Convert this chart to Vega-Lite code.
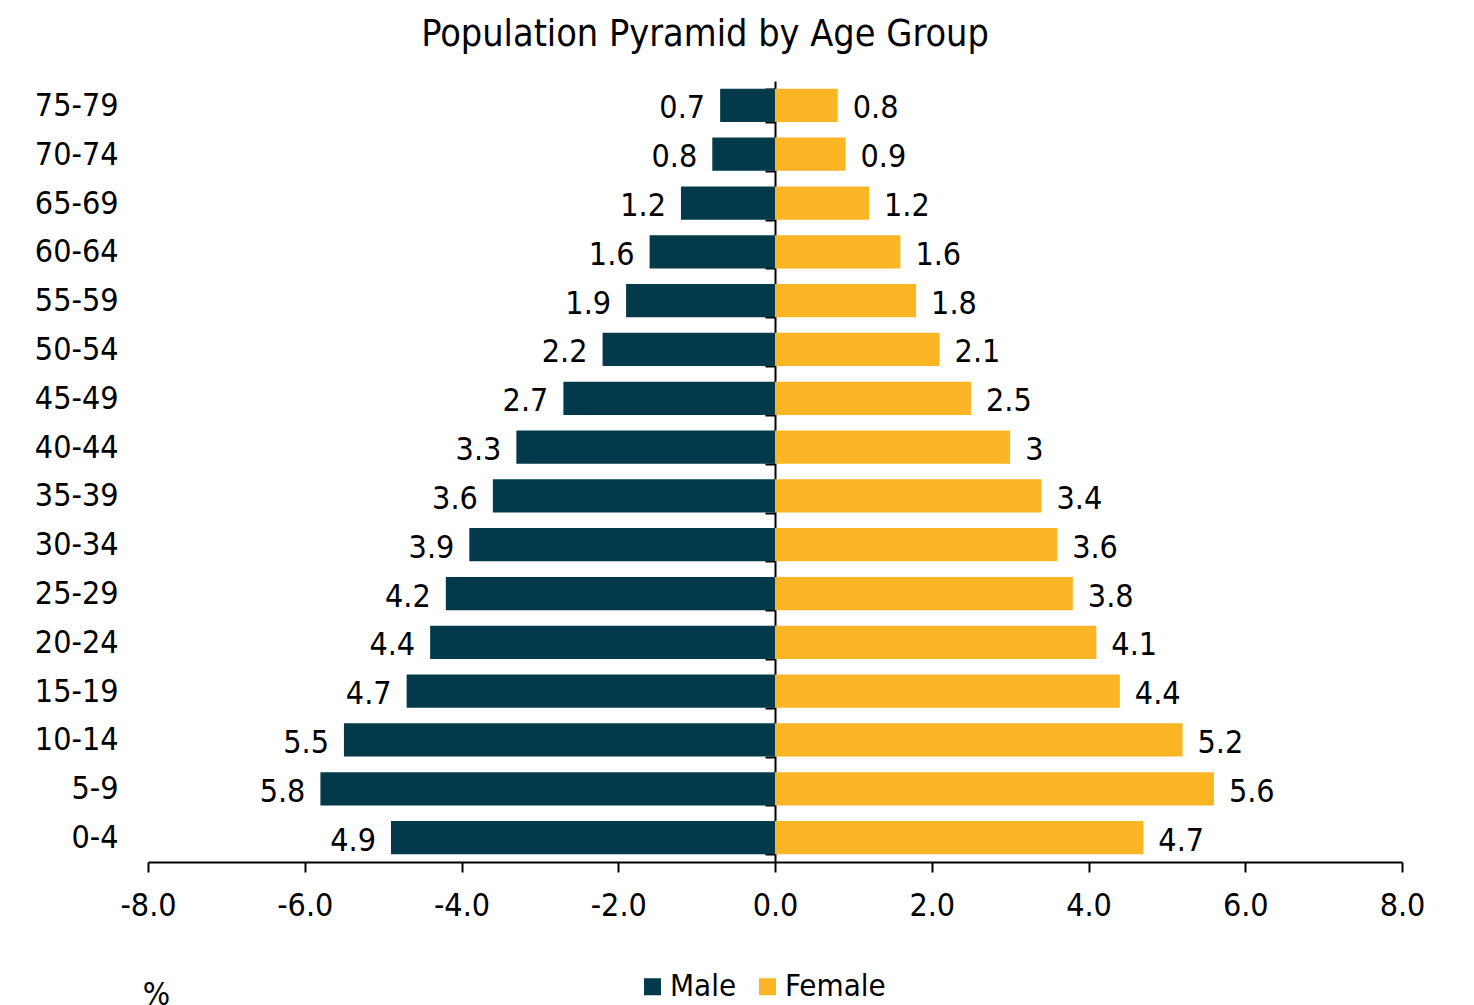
{
  "$schema": "https://vega.github.io/schema/vega-lite/v6.json",
  "width": 1254,
  "height": 781,
  "autosize": {"type": "none"},
  "padding": {"left": 148, "top": 81, "right": 72, "bottom": 143},
  "title": {
    "text": "Population Pyramid by Age Group",
    "fontSize": 37.5,
    "fontWeight": "normal",
    "color": "#000000",
    "anchor": "middle",
    "dx": -70,
    "offset": 12
  },
  "data": {
    "values": [
      {"age": "75-79", "sex": "Male", "pct": 0.7},
      {"age": "70-74", "sex": "Male", "pct": 0.8},
      {"age": "65-69", "sex": "Male", "pct": 1.2},
      {"age": "60-64", "sex": "Male", "pct": 1.6},
      {"age": "55-59", "sex": "Male", "pct": 1.9},
      {"age": "50-54", "sex": "Male", "pct": 2.2},
      {"age": "45-49", "sex": "Male", "pct": 2.7},
      {"age": "40-44", "sex": "Male", "pct": 3.3},
      {"age": "35-39", "sex": "Male", "pct": 3.6},
      {"age": "30-34", "sex": "Male", "pct": 3.9},
      {"age": "25-29", "sex": "Male", "pct": 4.2},
      {"age": "20-24", "sex": "Male", "pct": 4.4},
      {"age": "15-19", "sex": "Male", "pct": 4.7},
      {"age": "10-14", "sex": "Male", "pct": 5.5},
      {"age": "5-9", "sex": "Male", "pct": 5.8},
      {"age": "0-4", "sex": "Male", "pct": 4.9},
      {"age": "75-79", "sex": "Female", "pct": 0.8},
      {"age": "70-74", "sex": "Female", "pct": 0.9},
      {"age": "65-69", "sex": "Female", "pct": 1.2},
      {"age": "60-64", "sex": "Female", "pct": 1.6},
      {"age": "55-59", "sex": "Female", "pct": 1.8},
      {"age": "50-54", "sex": "Female", "pct": 2.1},
      {"age": "45-49", "sex": "Female", "pct": 2.5},
      {"age": "40-44", "sex": "Female", "pct": 3},
      {"age": "35-39", "sex": "Female", "pct": 3.4},
      {"age": "30-34", "sex": "Female", "pct": 3.6},
      {"age": "25-29", "sex": "Female", "pct": 3.8},
      {"age": "20-24", "sex": "Female", "pct": 4.1},
      {"age": "15-19", "sex": "Female", "pct": 4.4},
      {"age": "10-14", "sex": "Female", "pct": 5.2},
      {"age": "5-9", "sex": "Female", "pct": 5.6},
      {"age": "0-4", "sex": "Female", "pct": 4.7}
    ]
  },
  "transform": [
    {"calculate": "datum.sex === 'Male' ? -datum.pct : datum.pct", "as": "signed"}
  ],
  "encoding": {
    "y": {
      "field": "age",
      "type": "nominal",
      "sort": ["75-79", "70-74", "65-69", "60-64", "55-59", "50-54", "45-49", "40-44", "35-39", "30-34", "25-29", "20-24", "15-19", "10-14", "5-9", "0-4"],
      "scale": {"paddingInner": 0.32, "paddingOuter": 0.16},
      "axis": {
        "title": null,
        "offset": -627,
        "domainColor": "#000000",
        "domainWidth": 2,
        "tickColor": "#000000",
        "tickWidth": 2,
        "tickSize": 10,
        "tickBand": "extent",
        "labelPadding": 647,
        "labelFontSize": 32,
        "labelColor": "#000000",
        "labelAlign": "right"
      }
    },
    "x": {
      "field": "signed",
      "type": "quantitative",
      "scale": {"domain": [-8, 8], "nice": false, "zero": false},
      "axis": {
        "values": [-8, -6, -4, -2, 0, 2, 4, 6, 8],
        "labelExpr": "replace(format(datum.value, '.1f'), '\u2212', '-')",
        "grid": false,
        "domainColor": "#000000",
        "domainWidth": 2,
        "tickColor": "#000000",
        "tickWidth": 2,
        "tickSize": 10,
        "labelPadding": 18,
        "labelFontSize": 32,
        "labelColor": "#000000",
        "labelFlush": false,
        "title": "%",
        "titleFontSize": 32,
        "titleFontWeight": "normal",
        "titleColor": "#000000",
        "titleX": 8,
        "titleY": 142,
        "titleAlign": "center",
        "titleAnchor": "start",
        "titleBaseline": "alphabetic"
      }
    }
  },
  "layer": [
    {
      "mark": {"type": "bar"},
      "encoding": {
        "color": {
          "field": "sex",
          "type": "nominal",
          "scale": {"domain": ["Male", "Female"], "range": ["#033a4b", "#fcb625"]},
          "legend": {
            "title": null,
            "orient": "none",
            "direction": "horizontal",
            "legendX": 489,
            "legendY": 890,
            "symbolType": "square",
            "symbolSize": 289,
            "symbolStrokeWidth": 0,
            "labelFontSize": 31,
            "labelColor": "#000000",
            "labelOffset": 2,
            "columnPadding": 15,
            "padding": 0
          }
        }
      }
    },
    {
      "transform": [{"filter": "datum.sex === 'Male'"}],
      "mark": {"type": "text", "align": "right", "baseline": "middle", "dx": -15, "dy": 3, "fontSize": 32, "color": "#000000"},
      "encoding": {"text": {"field": "pct", "type": "quantitative"}}
    },
    {
      "transform": [{"filter": "datum.sex === 'Female'"}],
      "mark": {"type": "text", "align": "left", "baseline": "middle", "dx": 15, "dy": 3, "fontSize": 32, "color": "#000000"},
      "encoding": {"text": {"field": "pct", "type": "quantitative"}}
    }
  ],
  "config": {
    "font": "DejaVu Sans Condensed",
    "view": {"stroke": null}
  }
}
